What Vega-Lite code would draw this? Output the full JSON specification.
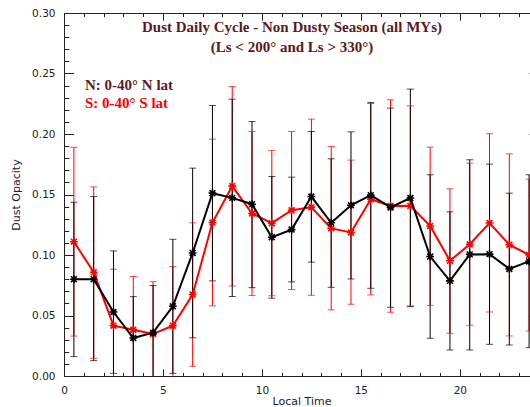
{
  "$schema": "https://vega.github.io/schema/vega-lite/v6.json",
  "width": 466,
  "height": 363,
  "autosize": {"type": "none"},
  "padding": {"left": 64, "top": 13, "right": 0, "bottom": 31},
  "background": "white",
  "title": {
    "text": ["Dust Daily Cycle - Non Dusty Season (all MYs)", "(Ls < 200° and Ls > 330°)"],
    "font": "Liberation Serif",
    "fontWeight": "bold",
    "fontSize": 15,
    "color": "#5a1a1a",
    "anchor": "middle",
    "frame": "group",
    "baseline": "top",
    "offset": -46.5,
    "lineHeight": 19.5,
    "dx": -5
  },
  "config": {
    "view": {"stroke": null},
    "axis": {
      "grid": false,
      "labelFont": "DejaVu Sans",
      "titleFont": "DejaVu Sans",
      "labelColor": "#222",
      "titleColor": "#222",
      "titleFontWeight": "normal",
      "domainColor": "#222",
      "tickColor": "#222",
      "labelFontSize": 10.5,
      "titleFontSize": 11
    }
  },
  "data": {
    "values": [
      {"hour": 0.5, "series": "S", "mean": 0.1110, "lo": 0.0330, "hi": 0.1890},
      {"hour": 1.5, "series": "S", "mean": 0.0857, "lo": 0.0146, "hi": 0.1563},
      {"hour": 2.5, "series": "S", "mean": 0.0416, "lo": -0.0050, "hi": 0.0882},
      {"hour": 3.5, "series": "S", "mean": 0.0383, "lo": -0.0056, "hi": 0.0822},
      {"hour": 4.5, "series": "S", "mean": 0.0347, "lo": -0.0086, "hi": 0.0780},
      {"hour": 5.5, "series": "S", "mean": 0.0416, "lo": -0.0070, "hi": 0.0904},
      {"hour": 6.5, "series": "S", "mean": 0.0673, "lo": 0.0080, "hi": 0.1266},
      {"hour": 7.5, "series": "S", "mean": 0.1268, "lo": 0.0580, "hi": 0.1957},
      {"hour": 8.5, "series": "S", "mean": 0.1569, "lo": 0.0744, "hi": 0.2393},
      {"hour": 9.5, "series": "S", "mean": 0.1343, "lo": 0.0665, "hi": 0.2021},
      {"hour": 10.5, "series": "S", "mean": 0.1263, "lo": 0.0663, "hi": 0.1864},
      {"hour": 11.5, "series": "S", "mean": 0.1370, "lo": 0.0715, "hi": 0.2021},
      {"hour": 12.5, "series": "S", "mean": 0.1395, "lo": 0.0667, "hi": 0.2123},
      {"hour": 13.5, "series": "S", "mean": 0.1220, "lo": 0.0546, "hi": 0.1897},
      {"hour": 14.5, "series": "S", "mean": 0.1186, "lo": 0.0593, "hi": 0.1784},
      {"hour": 15.5, "series": "S", "mean": 0.1461, "lo": 0.0670, "hi": 0.2252},
      {"hour": 16.5, "series": "S", "mean": 0.1405, "lo": 0.0527, "hi": 0.2283},
      {"hour": 17.5, "series": "S", "mean": 0.1406, "lo": 0.0579, "hi": 0.2233},
      {"hour": 18.5, "series": "S", "mean": 0.1240, "lo": 0.0584, "hi": 0.1891},
      {"hour": 19.5, "series": "S", "mean": 0.0952, "lo": 0.0353, "hi": 0.1547},
      {"hour": 20.5, "series": "S", "mean": 0.1089, "lo": 0.0419, "hi": 0.1759},
      {"hour": 21.5, "series": "S", "mean": 0.1264, "lo": 0.0529, "hi": 0.2002},
      {"hour": 22.5, "series": "S", "mean": 0.1085, "lo": 0.0331, "hi": 0.1836},
      {"hour": 23.5, "series": "S", "mean": 0.1000, "lo": 0.0372, "hi": 0.1627},
      {"hour": 0.5, "series": "N", "mean": 0.0800, "lo": 0.0160, "hi": 0.1436},
      {"hour": 1.5, "series": "N", "mean": 0.0800, "lo": 0.0127, "hi": 0.1483},
      {"hour": 2.5, "series": "N", "mean": 0.0529, "lo": 0.0022, "hi": 0.1034},
      {"hour": 3.5, "series": "N", "mean": 0.0314, "lo": -0.0030, "hi": 0.0656},
      {"hour": 4.5, "series": "N", "mean": 0.0358, "lo": -0.0030, "hi": 0.0747},
      {"hour": 5.5, "series": "N", "mean": 0.0576, "lo": 0.0022, "hi": 0.1130},
      {"hour": 6.5, "series": "N", "mean": 0.1017, "lo": 0.0316, "hi": 0.1718},
      {"hour": 7.5, "series": "N", "mean": 0.1511, "lo": 0.0786, "hi": 0.2236},
      {"hour": 8.5, "series": "N", "mean": 0.1472, "lo": 0.0657, "hi": 0.2288},
      {"hour": 9.5, "series": "N", "mean": 0.1420, "lo": 0.0730, "hi": 0.2103},
      {"hour": 10.5, "series": "N", "mean": 0.1147, "lo": 0.0643, "hi": 0.1649},
      {"hour": 11.5, "series": "N", "mean": 0.1210, "lo": 0.0778, "hi": 0.1643},
      {"hour": 12.5, "series": "N", "mean": 0.1483, "lo": 0.0941, "hi": 0.2021},
      {"hour": 13.5, "series": "N", "mean": 0.1266, "lo": 0.0733, "hi": 0.1795},
      {"hour": 14.5, "series": "N", "mean": 0.1411, "lo": 0.0802, "hi": 0.2018},
      {"hour": 15.5, "series": "N", "mean": 0.1495, "lo": 0.0725, "hi": 0.2261},
      {"hour": 16.5, "series": "N", "mean": 0.1393, "lo": 0.0568, "hi": 0.2214},
      {"hour": 17.5, "series": "N", "mean": 0.1471, "lo": 0.0573, "hi": 0.2371},
      {"hour": 18.5, "series": "N", "mean": 0.0987, "lo": 0.0312, "hi": 0.1663},
      {"hour": 19.5, "series": "N", "mean": 0.0786, "lo": 0.0215, "hi": 0.1357},
      {"hour": 20.5, "series": "N", "mean": 0.1005, "lo": 0.0215, "hi": 0.1787},
      {"hour": 21.5, "series": "N", "mean": 0.1007, "lo": 0.0262, "hi": 0.1751},
      {"hour": 22.5, "series": "N", "mean": 0.0885, "lo": 0.0256, "hi": 0.1511},
      {"hour": 23.5, "series": "N", "mean": 0.0947, "lo": 0.0234, "hi": 0.1663}
    ]
  },
  "resolve": {"axis": {"x": "independent", "y": "independent"}},
  "layer": [
    {
      "mark": {"type": "rule", "strokeWidth": 1, "clip": true},
      "encoding": {
        "x": {
          "field": "hour", "type": "quantitative",
          "scale": {"domain": [0, 24], "range": [0, 475], "nice": false, "zero": false},
          "axis": {"orient": "bottom", "values": [0, 5, 10, 15, 20], "ticks": false, "labelPadding": 9, "title": "Local Time", "titlePadding": 0, "domain": true, "labelFlush": false}
        },
        "y": {
          "field": "lo", "type": "quantitative",
          "scale": {"domain": [0, 0.3], "nice": false, "zero": false},
          "axis": {"orient": "left", "values": [0, 0.05, 0.1, 0.15, 0.2, 0.25, 0.3], "format": ".2f", "ticks": false, "labelPadding": 9, "title": "Dust Opacity", "titlePadding": 10, "domain": true, "labelFlush": false}
        },
        "y2": {"field": "hi"},
        "color": {
          "field": "series", "type": "nominal",
          "scale": {"domain": ["N", "S"], "range": ["#000000", "#ff0000"]},
          "legend": {
            "orient": "none", "legendX": 6, "legendY": 64, "title": null,
            "symbolSize": 0, "symbolStrokeWidth": 0, "symbolOpacity": 0,
            "labelOffset": 0, "padding": 0, "rowPadding": 2,
            "labelFont": "Liberation Serif", "labelFontWeight": "bold", "labelFontSize": 15, "labelLimit": 0,
            "labelExpr": "datum.value === 'N' ? 'N: 0-40° N lat' : 'S: 0-40° S lat'",
            "encode": {"labels": {"update": {"fill": {"signal": "datum.value === 'S' ? '#ff0000' : '#5a1a1a'"}}}}
          }
        }
      }
    },
    {
      "mark": {"type": "tick", "orient": "horizontal", "size": 7, "thickness": 1, "clip": true},
      "encoding": {
        "x": {"field": "hour", "type": "quantitative", "axis": {"orient": "bottom", "values": [0, 5, 10, 15, 20, 25], "labels": false, "domain": false, "tickSize": -7.2, "title": null}},
        "y": {"field": "lo", "type": "quantitative", "axis": {"orient": "left", "values": [0, 0.05, 0.1, 0.15, 0.2, 0.25, 0.3], "labels": false, "domain": false, "tickSize": -9.5, "title": null}},
        "color": {"field": "series", "type": "nominal", "legend": null}
      }
    },
    {
      "mark": {"type": "tick", "orient": "horizontal", "size": 7, "thickness": 1, "clip": true},
      "encoding": {
        "x": {"field": "hour", "type": "quantitative", "axis": {"orient": "bottom", "values": [1, 2, 3, 4, 6, 7, 8, 9, 11, 12, 13, 14, 16, 17, 18, 19, 21, 22, 23], "labels": false, "domain": false, "tickSize": -3.6, "title": null}},
        "y": {"field": "hi", "type": "quantitative", "axis": {"orient": "left", "values": [0.01, 0.02, 0.03, 0.04, 0.06, 0.07, 0.08, 0.09, 0.11, 0.12, 0.13, 0.14, 0.16, 0.17, 0.18, 0.19, 0.21, 0.22, 0.23, 0.24, 0.26, 0.27, 0.28, 0.29], "labels": false, "domain": false, "tickSize": -4.75, "title": null}},
        "color": {"field": "series", "type": "nominal", "legend": null}
      }
    },
    {
      "transform": [{"filter": "datum.series === 'S'"}],
      "mark": {
        "type": "line", "color": "#ff0000", "strokeWidth": 2, "clip": true,
        "point": {"shape": "M-1,0L1,0M0,-1L0,1M-0.75,-0.75L0.75,0.75M-0.75,0.75L0.75,-0.75", "filled": false, "size": 60, "strokeWidth": 1.6, "color": "#ff0000"}
      },
      "encoding": {
        "x": {"field": "hour", "type": "quantitative", "axis": {"orient": "top", "values": [0, 5, 10, 15, 20, 25], "labels": false, "domain": true, "tickSize": -7.2, "title": null}},
        "y": {"field": "mean", "type": "quantitative", "axis": {"orient": "right", "offset": 8.5, "values": [0, 0.05, 0.1, 0.15, 0.2, 0.25, 0.3], "labels": false, "domain": false, "tickSize": -9.5, "title": null}}
      }
    },
    {
      "transform": [{"filter": "datum.series === 'N'"}],
      "mark": {
        "type": "line", "color": "#000000", "strokeWidth": 2, "clip": true,
        "point": {"shape": "M-1,0L1,0M0,-1L0,1M-0.75,-0.75L0.75,0.75M-0.75,0.75L0.75,-0.75", "filled": false, "size": 60, "strokeWidth": 1.6, "color": "#000000"}
      },
      "encoding": {
        "x": {"field": "hour", "type": "quantitative", "axis": {"orient": "top", "values": [1, 2, 3, 4, 6, 7, 8, 9, 11, 12, 13, 14, 16, 17, 18, 19, 21, 22, 23], "labels": false, "domain": false, "tickSize": -3.6, "title": null}},
        "y": {"field": "mean", "type": "quantitative", "axis": null}
      }
    }
  ]
}
